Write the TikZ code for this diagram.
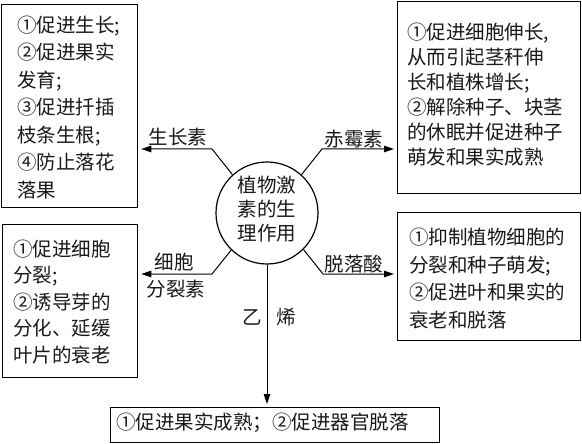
\documentclass[tikz,border=0pt]{standalone}
\usepackage{fontspec}
\setmainfont{Noto Sans CJK SC}
\usetikzlibrary{arrows.meta}
\newcommand{\nolsk}{\setlength{\lineskiplimit}{-100pt}}
\begin{document}
\begin{tikzpicture}[x=1pt,y=-1pt,
  every node/.style={inner sep=0pt, text=black!90},
  box/.style={draw, line width=1.3pt, rectangle, anchor=north west},
  txt/.style={anchor=base west, align=left, text width=#1,
    execute at begin node=\nolsk},
  hub/.style={draw, circle, line width=1.2pt, minimum size=102pt},
  conn/.style={line width=1pt, -{Triangle[length=10pt,width=6.5pt]}, shorten >=3pt},
  lab/.style={anchor=base, font=\fontsize{19.5}{23}\selectfont}
]
\useasboundingbox (0,0) rectangle (582,444);

% boxes
\node[box, minimum width=136pt, minimum height=203pt] (tl) at (1,4) {};
\node[box, minimum width=183pt, minimum height=192pt] (tr) at (397,1) {};
\node[box, minimum width=135pt, minimum height=153pt] (bl) at (2,224) {};
\node[box, minimum width=183pt, minimum height=128pt] (br) at (397,212) {};
\node[box, minimum width=329pt, minimum height=35pt] (bt) at (110,407) {};

% box texts
\node[txt=115pt, font=\fontsize{19.5}{27.5}\selectfont] (tlt) at (17,32.4)
  {①促进生长;\\②促进果实\\发育;\\③促进扦插\\枝条生根;\\④防止落花\\落果};
\node[txt=170pt, font=\fontsize{19.5}{25}\selectfont] (trt) at (407,39.4)
  {①促进细胞伸长,\\从而引起茎秆伸\\长和植株增长;\\②解除种子、块茎\\的休眠并促进种子\\萌发和果实成熟};
\node[txt=120pt, font=\fontsize{19.5}{26.5}\selectfont] (blt) at (13,256.4)
  {①促进细胞\\分裂;\\②诱导芽的\\分化、延缓\\叶片的衰老};
\node[txt=170pt, font=\fontsize{19.5}{27.7}\selectfont] (brt) at (409,244.4)
  {①抑制植物细胞的\\分裂和种子萌发;\\②促进叶和果实的\\衰老和脱落};
\node[txt=320pt, font=\fontsize{19.5}{24}\selectfont] (btt) at (116,429.4)
  {①促进果实成熟；②促进器官脱落};

% hub
\node[hub] (c) at (267,213) {};
\node[anchor=base, align=center, text width=70pt, execute at begin node=\nolsk,
  font=\fontsize{19.5}{24}\selectfont] (ct) at (267,192.4) {植物激\\素的生\\理作用};

% connectors
\coordinate (k1) at (212,149);
\coordinate (k2) at (322,149);
\coordinate (k3) at (212,274);
\coordinate (k4) at (323,274);
\draw[conn] (c.132) -- (k1) -- (k1 -| tl.east);
\draw[conn] (c.48) -- (k2) -- (k2 -| tr.west);
\draw[conn] (c.226) -- (k3) -- (k3 -| bl.east);
\draw[conn] (c.315) -- (k4) -- (k4 -| br.west);
\draw[conn] (c.south) -- (c.south |- bt.north);

% labels
\node[lab] (l1) at (178,144.4) {生长素};
\node[lab] (l2) at (354,146.4) {赤霉素};
\node[lab] (l3a) at (174,269.4) {细胞};
\node[lab] (l3b) at (176,296.4) {分裂素};
\node[lab] (l4) at (354,271.4) {脱落酸};
\node[lab] (l5a) at (252,324.4) {乙};
\node[lab] (l5b) at (286,324.4) {烯};
\end{tikzpicture}
\end{document}
